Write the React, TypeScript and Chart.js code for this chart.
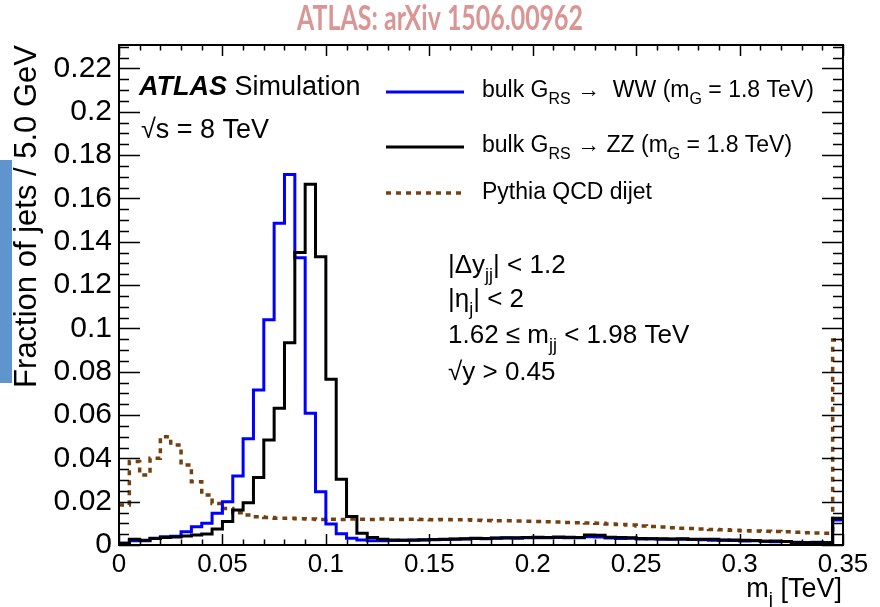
import React, { useEffect, useRef } from 'react';
import { Chart, registerables } from 'chart.js';

Chart.register(...registerables);

const FONT = "'Liberation Sans', Arial, Helvetica, sans-serif";

const BIN_WIDTH = 0.005;
const N_BINS = 70;
const binLowEdges: number[] = Array.from({ length: N_BINS }, (_, i) => Math.round(i * BIN_WIDTH * 1000) / 1000);

// bulk G_RS -> WW (blue)
const wwValues = [
  0.0008, 0.0020, 0.0020, 0.0031, 0.0038, 0.0040, 0.0061, 0.0084, 0.0100, 0.0146,
  0.0200, 0.0318, 0.0491, 0.0715, 0.1040, 0.1485, 0.1710, 0.1326, 0.0608, 0.0246,
  0.0097, 0.0052, 0.0031, 0.0023, 0.0020, 0.0020, 0.0021, 0.0022, 0.0022, 0.0023,
  0.0024, 0.0025, 0.0027, 0.0028, 0.0030, 0.0029, 0.0031, 0.0032, 0.0031, 0.0033,
  0.0034, 0.0033, 0.0035, 0.0033, 0.0034, 0.0038, 0.0037, 0.0032, 0.0030, 0.0031,
  0.0028, 0.0029, 0.0027, 0.0026, 0.0027, 0.0025, 0.0024, 0.0022, 0.0023, 0.0021,
  0.0019, 0.0020, 0.0017, 0.0015, 0.0016, 0.0013, 0.0012, 0.0013, 0.0012, 0.0115,
];

// bulk G_RS -> ZZ (black)
const zzValues = [
  0.0008, 0.0026, 0.0022, 0.0030, 0.0035, 0.0037, 0.0042, 0.0046, 0.0051, 0.0074,
  0.0108, 0.0162, 0.0195, 0.0312, 0.0485, 0.0631, 0.0934, 0.1350, 0.1665, 0.1330,
  0.0765, 0.0303, 0.0131, 0.0054, 0.0035, 0.0026, 0.0023, 0.0022, 0.0023, 0.0024,
  0.0025, 0.0027, 0.0028, 0.0029, 0.0031, 0.0030, 0.0032, 0.0034, 0.0033, 0.0035,
  0.0036, 0.0035, 0.0037, 0.0036, 0.0035, 0.0046, 0.0045, 0.0036, 0.0035, 0.0034,
  0.0030, 0.0029, 0.0029, 0.0028, 0.0029, 0.0027, 0.0026, 0.0027, 0.0022, 0.0023,
  0.0022, 0.0021, 0.0017, 0.0018, 0.0016, 0.0011, 0.0010, 0.0011, 0.0010, 0.0123,
];

// Pythia QCD dijet (brown dotted)
const qcdValues = [
  0.0185, 0.0385, 0.0323, 0.0400, 0.0500, 0.0462, 0.0369, 0.0292, 0.0231, 0.0192,
  0.0169, 0.0149, 0.0138, 0.0130, 0.0127, 0.0124, 0.0123, 0.0121, 0.0120, 0.0118,
  0.0119, 0.0118, 0.0120, 0.0119, 0.0118, 0.0120, 0.0119, 0.0118, 0.0119, 0.0118,
  0.0117, 0.0118, 0.0117, 0.0116, 0.0114, 0.0113, 0.0112, 0.0112, 0.0111, 0.0110,
  0.0109, 0.0107, 0.0106, 0.0104, 0.0103, 0.0101, 0.0100, 0.0097, 0.0095, 0.0092,
  0.0088, 0.0085, 0.0083, 0.0080, 0.0077, 0.0076, 0.0074, 0.0072, 0.0070, 0.0068,
  0.0066, 0.0065, 0.0063, 0.0062, 0.0061, 0.0059, 0.0057, 0.0055, 0.0054, 0.0946,
];

const X_MIN = 0;
const X_MAX = 0.35;
const Y_MIN = 0;
const Y_MAX = 0.2308;
const X_MAJOR = 0.05;
const X_MINOR = 0.01;
const Y_MAJOR = 0.02;
const Y_MINOR = 0.005;

const seriesLabels = [
  'bulk G_RS \u2192 WW (m_G = 1.8 TeV)',
  'bulk G_RS \u2192 ZZ (m_G = 1.8 TeV)',
  'Pythia QCD dijet',
];

const BLUE = '#0000ff';
const BLACK = '#000000';
const BROWN = '#74400f';

function toSteps(values: number[]) {
  const pts = values.map((v, i) => ({ x: binLowEdges[i], y: v }));
  pts.push({ x: Math.round((binLowEdges[N_BINS - 1] + BIN_WIDTH) * 1000) / 1000, y: values[N_BINS - 1] });
  return pts;
}

function fmt(v: any) {
  return String(parseFloat(Number(v).toFixed(3)));
}

type Seg = { t: string; sub?: boolean; bold?: boolean; italic?: boolean };

function drawRich(ctx: CanvasRenderingContext2D, x: number, y: number, segs: Seg[], size: number, align: 'left' | 'right' = 'left') {
  const fontOf = (s: Seg) => `${s.italic ? 'italic ' : ''}${s.bold ? 'bold ' : ''}${s.sub ? Math.round(size * 0.7) : size}px ${FONT}`;
  let total = 0;
  const widths = segs.map((s) => {
    ctx.font = fontOf(s);
    const w = ctx.measureText(s.t).width;
    total += w;
    return w;
  });
  let cx = align === 'right' ? x - total : x;
  ctx.textAlign = 'left';
  ctx.textBaseline = 'alphabetic';
  segs.forEach((s, i) => {
    ctx.font = fontOf(s);
    ctx.fillText(s.t, cx, s.sub ? y + size * 0.3 : y);
    cx += widths[i];
  });
}

const decorPlugin = {
  id: 'atlasDecor',
  beforeDraw(chart: any) {
    const ctx = chart.ctx as CanvasRenderingContext2D;
    ctx.save();
    ctx.fillStyle = '#ffffff';
    ctx.fillRect(0, 0, chart.width, chart.height);
    // side decoration bar
    ctx.fillStyle = '#5f94cc';
    ctx.fillRect(0, 160, 12, 223);
    // page title
    ctx.fillStyle = '#d99694';
    ctx.font = `bold 34px Lato, 'Open Sans', sans-serif`;
    const title = 'ATLAS: arXiv 1506.00962';
    const w = ctx.measureText(title).width;
    const target = 286;
    ctx.translate(440, 30);
    ctx.scale(target / w, 1);
    ctx.textAlign = 'center';
    ctx.textBaseline = 'alphabetic';
    ctx.fillText(title, 0, 0);
    ctx.restore();
  },
  afterDatasetsDraw(chart: any) {
    const ctx = chart.ctx as CanvasRenderingContext2D;
    const { left, right, top, bottom } = chart.chartArea;
    const xs = chart.scales.x;
    const ys = chart.scales.y;
    ctx.save();
    ctx.strokeStyle = '#000';
    ctx.lineWidth = 1.5;
    ctx.beginPath();
    const nx = Math.round((X_MAX - X_MIN) / X_MINOR);
    const perX = Math.round(X_MAJOR / X_MINOR);
    for (let i = 0; i <= nx; i++) {
      const px = Math.round(xs.getPixelForValue(X_MIN + i * X_MINOR)) + 0.5;
      const len = i % perX === 0 ? 11 : 5.5;
      ctx.moveTo(px, bottom);
      ctx.lineTo(px, bottom - len);
      ctx.moveTo(px, top);
      ctx.lineTo(px, top + len);
    }
    const ny = Math.floor((Y_MAX - Y_MIN) / Y_MINOR + 1e-6);
    const perY = Math.round(Y_MAJOR / Y_MINOR);
    for (let i = 0; i <= ny; i++) {
      const py = Math.round(ys.getPixelForValue(Y_MIN + i * Y_MINOR)) + 0.5;
      const len = i % perY === 0 ? 21 : 10;
      ctx.moveTo(left, py);
      ctx.lineTo(left + len, py);
      ctx.moveTo(right, py);
      ctx.lineTo(right - len, py);
    }
    ctx.stroke();
    ctx.lineWidth = 2;
    ctx.strokeRect(left, top, right - left, bottom - top);
    ctx.restore();
  },
  afterDraw(chart: any) {
    const ctx = chart.ctx as CanvasRenderingContext2D;
    const { right, bottom } = chart.chartArea;
    ctx.save();
    ctx.fillStyle = '#000';

    // ATLAS Simulation
    drawRich(ctx, 139, 95, [{ t: 'ATLAS', bold: true, italic: true }, { t: ' Simulation' }], 27);
    drawRich(ctx, 141, 138, [{ t: '\u221as = 8 TeV' }], 27);

    // legend
    const ds = chart.data.datasets;
    const rows = [92, 147, 193];
    const textRows = [97, 152, 199];
    const rich: Seg[][] = [
      [{ t: 'bulk G' }, { t: 'RS', sub: true }, { t: ' \u2192  WW (m' }, { t: 'G', sub: true }, { t: ' = 1.8 TeV)' }],
      [{ t: 'bulk G' }, { t: 'RS', sub: true }, { t: ' \u2192 ZZ (m' }, { t: 'G', sub: true }, { t: ' = 1.8 TeV)' }],
      [{ t: 'Pythia QCD dijet' }],
    ];
    for (let i = 0; i < 3; i++) {
      const d = ds[i];
      ctx.save();
      ctx.strokeStyle = d.borderColor;
      ctx.lineWidth = d.borderWidth;
      ctx.setLineDash(d.borderDash || []);
      ctx.beginPath();
      ctx.moveTo(386, rows[i]);
      ctx.lineTo(464, rows[i]);
      ctx.stroke();
      ctx.restore();
      drawRich(ctx, 482, textRows[i], rich[i], 23);
    }

    // selection cuts
    drawRich(ctx, 448, 273, [{ t: '|\u0394y' }, { t: 'jj', sub: true }, { t: '| < 1.2' }], 26);
    drawRich(ctx, 448, 307, [{ t: '|\u03b7' }, { t: 'j', sub: true }, { t: '| < 2' }], 26);
    drawRich(ctx, 448, 343, [{ t: '1.62 \u2264 m' }, { t: 'jj', sub: true }, { t: ' < 1.98 TeV' }], 26);
    drawRich(ctx, 448, 380, [{ t: '\u221ay > 0.45' }], 26);

    // x axis title
    drawRich(ctx, right - 1, bottom + 52, [{ t: 'm' }, { t: 'j', sub: true }, { t: ' [TeV]' }], 27, 'right');
    ctx.restore();
  },
};

export default function App() {
  const canvasRef = useRef<HTMLCanvasElement | null>(null);

  useEffect(() => {
    document.body.style.margin = '0';
    const canvas = canvasRef.current;
    if (!canvas) return;
    const chart = new Chart(canvas, {
      type: 'line',
      data: {
        datasets: [
          {
            label: seriesLabels[0],
            data: toSteps(wwValues),
            borderColor: BLUE,
            borderWidth: 3,
            stepped: 'before',
            pointRadius: 0,
            fill: false,
            order: 1,
          },
          {
            label: seriesLabels[1],
            data: toSteps(zzValues),
            borderColor: BLACK,
            borderWidth: 3,
            stepped: 'before',
            pointRadius: 0,
            fill: false,
            order: 0,
          },
          {
            label: seriesLabels[2],
            data: toSteps(qcdValues),
            borderColor: BROWN,
            borderWidth: 3.5,
            borderDash: [5, 5],
            borderCapStyle: 'butt',
            stepped: 'before',
            pointRadius: 0,
            fill: false,
            order: 2,
          },
        ] as any,
      },
      options: {
        animation: false,
        responsive: false,
        maintainAspectRatio: false,
        devicePixelRatio: 1,
        layout: { padding: { top: 45, right: 37, left: 0, bottom: 0 } },
        plugins: {
          legend: { display: false },
          tooltip: { enabled: false },
          title: { display: false },
        },
        scales: {
          x: {
            type: 'linear',
            min: X_MIN,
            max: X_MAX,
            afterFit: (s: any) => {
              s.height = 62;
            },
            grid: { display: false, drawTicks: false },
            border: { display: false },
            ticks: {
              stepSize: X_MAJOR,
              autoSkip: false,
              maxRotation: 0,
              minRotation: 0,
              includeBounds: false,
              padding: 4,
              color: '#000',
              font: { family: FONT, size: 26 },
              callback: fmt,
            },
          },
          y: {
            type: 'linear',
            min: Y_MIN,
            max: Y_MAX,
            afterFit: (s: any) => {
              s.width = 119;
            },
            grid: { display: false, drawTicks: false },
            border: { display: false },
            ticks: {
              stepSize: Y_MAJOR,
              autoSkip: false,
              includeBounds: false,
              padding: 7,
              color: '#000',
              font: { family: FONT, size: 30 },
              callback: fmt,
            },
            title: {
              display: true,
              text: 'Fraction of jets / 5.0 GeV',
              align: 'end',
              color: '#000',
              font: { family: FONT, size: 31 },
              padding: { top: 9, bottom: 0 },
            },
          },
        },
      } as any,
      plugins: [decorPlugin as any],
    });
    return () => chart.destroy();
  }, []);

  return (
    <div style={{ width: 880, height: 607, position: 'relative', background: '#fff' }}>
      <canvas ref={canvasRef} width={880} height={607} style={{ display: 'block', width: 880, height: 607 }} />
    </div>
  );
}
